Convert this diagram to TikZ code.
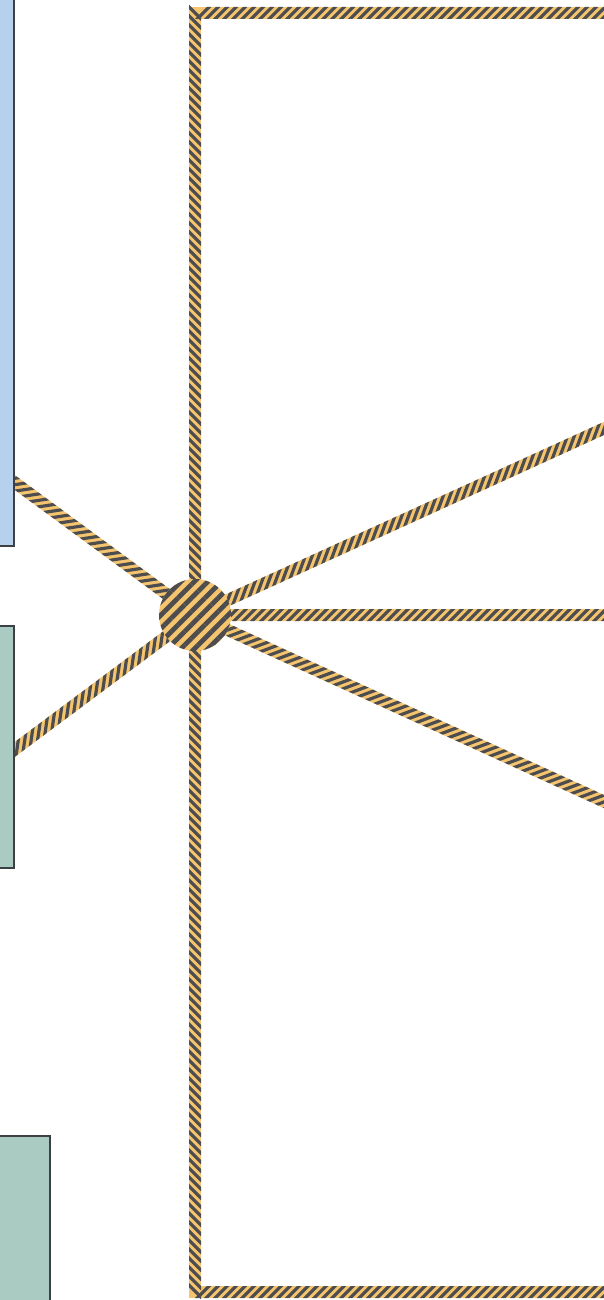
\documentclass[tikz,border=0pt]{standalone}
\usetikzlibrary{decorations.markings,patterns.meta,backgrounds}
\definecolor{haz}{HTML}{F5C46E}
\definecolor{hazdark}{HTML}{4D4D4F}
\definecolor{boxblue}{HTML}{B5D1EE}
\definecolor{boxgreen}{HTML}{AACBC1}
\definecolor{boxline}{HTML}{3C3F44}
\tikzset{
  hazard/.style={draw=haz, line width=12pt, line join=miter,
    postaction={decorate, decoration={markings,
      mark=between positions 0 and 1 step 9pt with {
        \fill[hazdark] (-8.25pt,-6pt) -- (-3.75pt,-6pt) -- (8.25pt,6pt) -- (3.75pt,6pt) -- cycle;}}}},
  panel/.style={draw=boxline, line width=1.6pt, rectangle, inner sep=0pt},
  hubnode/.style={circle, minimum size=72pt, inner sep=0pt, fill=haz,
    postaction={pattern={Lines[angle=45,distance=9.5pt,line width=4.75pt]}, pattern color=hazdark}}
}
\begin{document}
\begin{tikzpicture}[x=1pt,y=-1pt]
\useasboundingbox (0,0) rectangle (603,1300);
\clip (0,0) rectangle (603,1300);
% panels
\node[panel, fill=boxblue, minimum width=80pt, minimum height=600pt, anchor=south east] (blue) at (14.5,547) {};
\node[panel, fill=boxgreen, minimum width=80pt, minimum height=242pt, anchor=north east] (green1) at (14.5,625) {};
\node[panel, fill=boxgreen, minimum width=120pt, minimum height=300pt, anchor=north east] (green2) at (51,1135) {};
% hub
\node[hubnode] (hub) at (195,615) {};
% connector end points
\coordinate (bl) at (10,479);
\coordinate (gl) at (10,753);
\coordinate (ur) at (640,412);
\coordinate (dr) at (640,818);
\coordinate (hr) at (700,615);
\begin{scope}[on background layer]
  \fill[white] (0,0) rectangle (603,1300);
  \draw[hazard] (195,13) rectangle (720,1292);
  \draw[hazard] (bl) -- (hub.center);
  \draw[hazard] (gl) -- (hub.center);
  \draw[hazard] (hub.center) -- (ur);
  \draw[hazard] (hub.center) -- (dr);
  \draw[hazard] (hub.center) -- (hr);
\end{scope}
\end{tikzpicture}
\end{document}
